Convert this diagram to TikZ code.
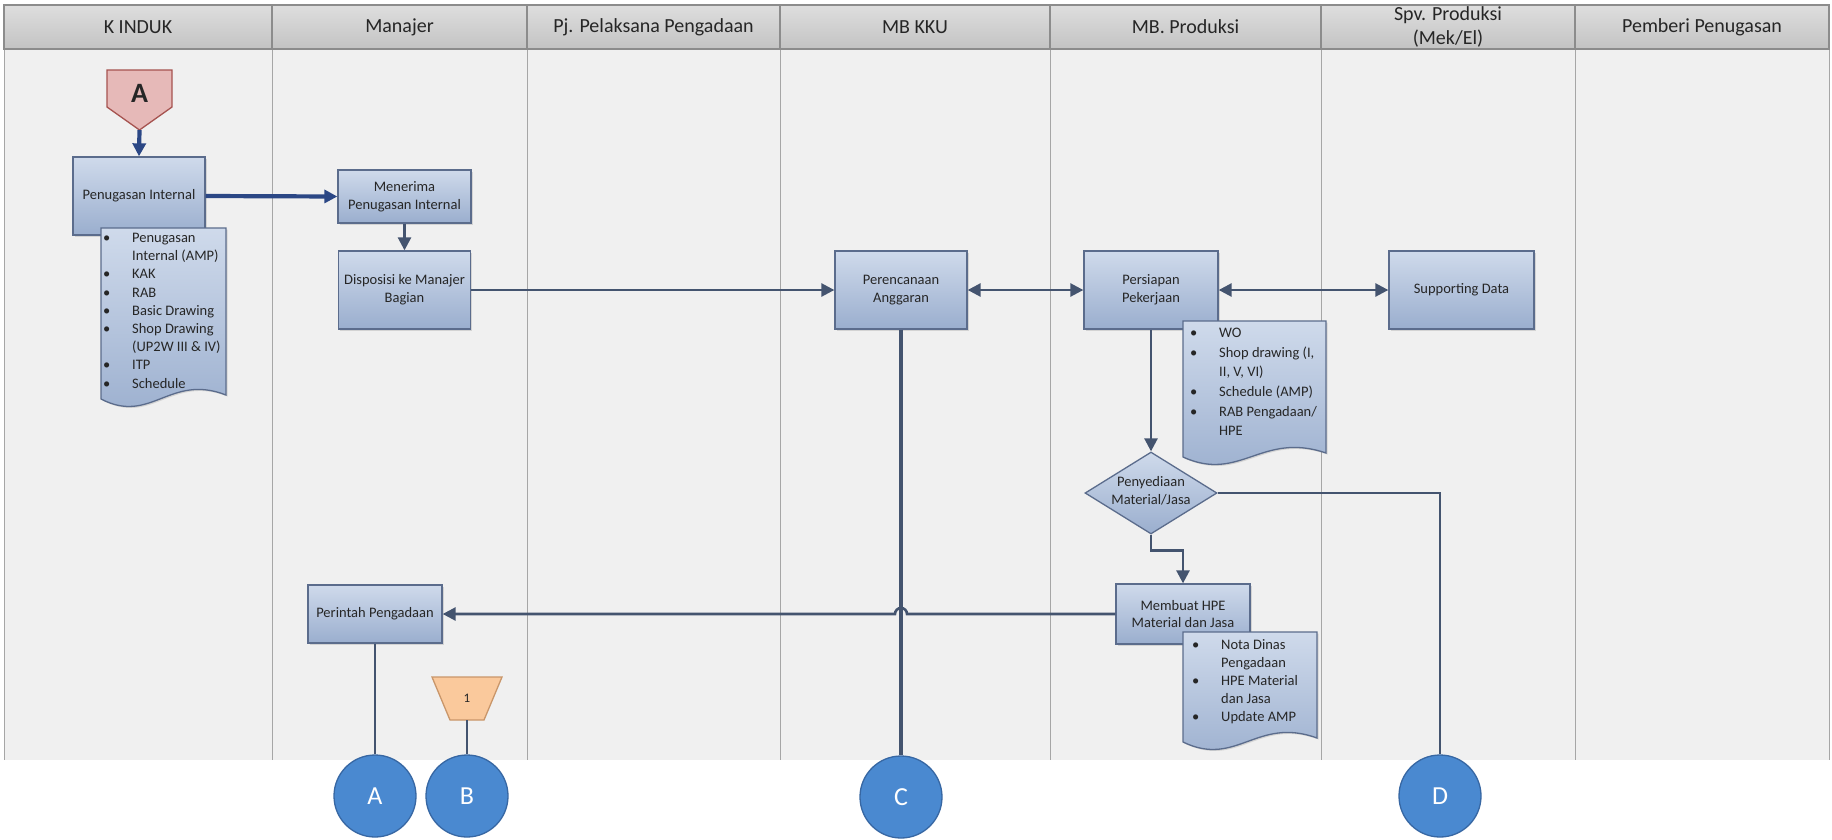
\documentclass[tikz,border=0pt]{standalone}
\usepackage{fontspec}
\setmainfont{Carlito}
\usetikzlibrary{arrows.meta,shapes.geometric,shadows,calc}

\definecolor{laneBody}{HTML}{F0F0F0}
\definecolor{laneLine}{HTML}{A6A6A6}
\definecolor{hdrTop}{HTML}{DEDEDE}
\definecolor{hdrBot}{HTML}{C3C3C3}
\definecolor{hdrLine}{HTML}{8C8C8C}
\definecolor{boxTop}{HTML}{CFDAEB}
\definecolor{boxBot}{HTML}{9AAECE}
\definecolor{boxLine}{HTML}{5B6C8C}
\definecolor{inkText}{HTML}{262626}
\definecolor{flowNavy}{HTML}{2B4785}
\definecolor{flowSlate}{HTML}{44546F}
\definecolor{pinkFill}{HTML}{E6B9B8}
\definecolor{pinkLine}{HTML}{A65350}
\definecolor{peachFill}{HTML}{FAC99C}
\definecolor{peachLine}{HTML}{C9966A}
\definecolor{refFill}{HTML}{4A89D0}
\definecolor{refLine}{HTML}{3767A3}

% bullet and indent for the document lists
\newcommand{\docb}{\makebox[29pt][l]{•}}
\newcommand{\doci}{\hspace*{29pt}}

% document shape with a wavy bottom: left, top, right, lowest point
\newcommand{\docpath}[4]{%
  \path[docshape] (#1,#2) -- (#3,#2) -- (#3,#4-12)
    .. controls ({#1+0.55*(#3-#1)},#4-34) and ({#1+0.4*(#3-#1)},#4+18) .. (#1,#4-8) -- cycle;}

\tikzset{
  hdr/.style={draw=hdrLine, line width=1.2pt, top color=hdrTop, bottom color=hdrBot,
    minimum height=44pt, inner sep=0pt, align=center, text=inkText,
    font=\fontsize{20}{24}\selectfont},
  procbox/.style={draw=boxLine, line width=1.3pt, top color=boxTop, bottom color=boxBot,
    inner sep=0pt, align=center, text=inkText, font=\fontsize{14.5}{17.8}\selectfont,
    drop shadow={shadow xshift=1.5pt, shadow yshift=-1.5pt, opacity=0.25}},
  decision/.style={diamond, draw=boxLine, line width=1.3pt, top color=boxTop, bottom color=boxBot,
    inner sep=0pt, minimum width=132pt, minimum height=82pt},
  docshape/.style={draw=boxLine, line width=1.3pt, top color=boxTop, bottom color=boxBot,
    drop shadow={shadow xshift=1.5pt, shadow yshift=-1.5pt, opacity=0.25}},
  doctext/.style={inner sep=0pt, align=left, anchor=north west, text=inkText,
    font=\fontsize{14.5}{18.2}\selectfont},
  plaintext/.style={inner sep=0pt, align=center, text=inkText, font=\fontsize{14.5}{17.8}\selectfont},
  refcirc/.style={circle, draw=refLine, line width=1.3pt, fill=refFill, minimum size=82pt,
    inner sep=0pt, text=white, font=\fontsize{26}{30}\selectfont},
  flow/.style={draw=flowSlate, line width=2.6pt},
  flowthick/.style={draw=flowNavy, line width=4.2pt},
  flowthin/.style={draw=flowSlate, line width=2pt},
  tipend/.style={-{Triangle[length=13pt,width=13pt]}},
  tipboth/.style={{Triangle[length=13pt,width=13pt]}-{Triangle[length=13pt,width=13pt]}},
}

\begin{document}
\begin{tikzpicture}[x=1pt, y=-1pt]
\useasboundingbox (0,0) rectangle (1832,839);
\fill[white] (0,0) rectangle (1832,839);

% lane bodies
\fill[laneBody] (4,49) rectangle (1829,760);
\foreach \lx in {4,272,527,780,1050,1321,1575,1829}
  \draw[laneLine, line width=1pt] (\lx,49) -- (\lx,760);

% lane headers
\node[hdr, minimum width=268pt] (h1) at (138,27)    {K INDUK};
\node[hdr, minimum width=255pt] (h2) at (399.5,27)  {Manajer};
\node[hdr, minimum width=253pt] (h3) at (653.5,27)  {Pj. Pelaksana Pengadaan};
\node[hdr, minimum width=270pt] (h4) at (915,27)    {MB KKU};
\node[hdr, minimum width=271pt] (h5) at (1185.5,27) {MB. Produksi};
\node[hdr, minimum width=254pt] (h6) at (1448,27)   {Spv. Produksi\\(Mek/El)};
\node[hdr, minimum width=254pt] (h7) at (1702,27)   {Pemberi Penugasan};

% off-page connector A
\path[fill=pinkFill, draw=pinkLine, line width=1.3pt]
  (107,70) -- (172,70) -- (172,107) -- (139.5,130) -- (107,107) -- cycle;
\node[inner sep=0pt, text=inkText, font=\fontsize{28}{32}\selectfont\bfseries] (conA) at (139.5,93) {A};
\coordinate (conAtip) at (139.5,130);

% process steps
\node[procbox, minimum width=132pt, minimum height=78pt] (pen) at (139,196) {Penugasan Internal};
\node[procbox, minimum width=133pt, minimum height=53pt] (mnr) at (404.5,196.5) {Menerima\\Penugasan Internal};
\node[procbox, minimum width=132pt, minimum height=78pt] (disp) at (404.5,290) {Disposisi ke Manajer\\Bagian};
\node[procbox, minimum width=132pt, minimum height=78pt] (perenc) at (901,290) {Perencanaan\\Anggaran};
\node[procbox, minimum width=134pt, minimum height=78pt] (persi) at (1151,290) {Persiapan\\Pekerjaan};
\node[procbox, minimum width=145pt, minimum height=78pt] (supp) at (1461.5,290) {Supporting Data};
\node[decision] (dia) at (1151,493) {};
\node[plaintext] (diatext) at (1151,491) {Penyediaan\\Material/Jasa};
\node[procbox, minimum width=134pt, minimum height=60pt] (memb) at (1183,614) {Membuat HPE\\Material dan Jasa};
\node[procbox, minimum width=134pt, minimum height=58pt] (perin) at (375,614) {Perintah Pengadaan};

% documents
\docpath{101}{228}{226}{407}
\node[doctext] (doc1) at (103,233) {\docb Penugasan\\ \doci Internal (AMP)\\ \docb KAK\\ \docb RAB\\
  \docb Basic Drawing\\ \docb Shop Drawing\\ \doci (UP2W III \& IV)\\ \docb ITP\\ \docb Schedule};
\docpath{1183}{321}{1326}{465}
\node[doctext, font=\fontsize{14.5}{19.6}\selectfont] (doc2) at (1190,328) {\docb WO\\ \docb Shop drawing (I,\\ \doci II, V, VI)\\
  \docb Schedule (AMP)\\ \docb RAB Pengadaan/\\ \doci HPE};
\docpath{1183}{632}{1317}{750}
\node[doctext] (doc3) at (1192,639) {\docb Nota Dinas\\ \doci Pengadaan\\ \docb HPE Material\\
  \doci dan Jasa\\ \docb Update AMP};

% on-page reference 1
\path[fill=peachFill, draw=peachLine, line width=1.3pt]
  (432,677) -- (502,677) -- (484,720) -- (450,720) -- cycle;
\node[inner sep=0pt, text=inkText, font=\fontsize{13}{15}\selectfont] (trap) at (467,698) {1};
\coordinate (trapB) at (467,720);

% connector circles
\node[refcirc] (circA) at (375,796) {A};
\node[refcirc] (circB) at (467,796) {B};
\node[refcirc] (circC) at (901,797) {C};
\node[refcirc] (circD) at (1440,796) {D};

% connectors
\draw[flowthick, tipend] (conAtip) -- (pen.north);
\draw[flowthick, tipend] (pen.east) -- (mnr.west);
\draw[flow, tipend] (mnr.south) -- (disp.north);
\draw[flow, tipend] (disp.east) -- (perenc.west);
\draw[flow, tipboth] (perenc.east) -- (persi.west);
\draw[flow, tipboth] (persi.east) -- (supp.west);
\draw[flow, tipend] (persi.south) -- (dia.north);
\draw[flow, tipend] (dia.south) -- ++(0,16) -| (memb.north);
\draw[flowthin] (dia.east) -| (circD.north);
\draw[flowthick, draw=flowSlate, line width=3.6pt] (perenc.south) -- (circC.north);
\draw[flow, tipend] (memb.west) -- ([xshift=6pt]circC.north |- memb.west)
  arc[start angle=0, end angle=180, radius=6pt] -- (perin.east);
\draw[flowthin] (perin.south) -- (circA.north);
\draw[flowthin] (trapB) -- (circB.north);
\end{tikzpicture}
\end{document}
